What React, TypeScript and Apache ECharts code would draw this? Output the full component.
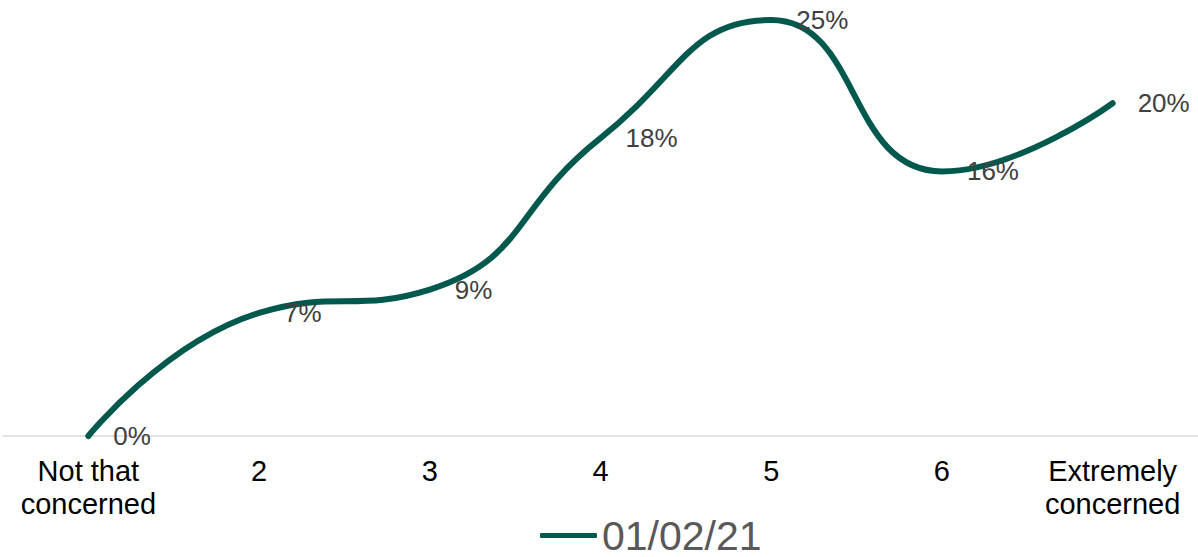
import React, { useEffect, useRef } from "react";
import * as echarts from "echarts";

const categories = ["Not that\nconcerned", "2", "3", "4", "5", "6", "Extremely\nconcerned"];
const seriesName = "01/02/21";
const values = [0, 7.4, 8.8, 17.9, 25, 15.9, 20];

export default function App() {
  const ref = useRef<HTMLDivElement>(null);
  useEffect(() => {
    if (!ref.current) return;
    const chart = echarts.init(ref.current, undefined, { renderer: "svg" });
    chart.setOption({
      animation: false,
      textStyle: { fontFamily: "Liberation Sans, Arial, sans-serif" },
      grid: { left: 3, right: 0, top: 20, bottom: 121 },
      legend: {
        data: [{ name: seriesName, icon: "roundRect" }],
        left: 535,
        top: 510,
        itemWidth: 57,
        itemHeight: 5,
        itemGap: 16,
        itemStyle: { color: "#00594c", opacity: 1 },
        textStyle: {
          fontSize: 41,
          lineHeight: 36,
          color: "#595959",
          fontFamily: "Liberation Sans, Arial, sans-serif",
        },
      },
      xAxis: {
        type: "category",
        data: categories,
        boundaryGap: true,
        axisTick: { show: false },
        axisLine: { lineStyle: { color: "#d9d9d9", width: 1.5 } },
        axisLabel: {
          color: "#000000",
          fontSize: 29,
          lineHeight: 33,
          margin: 18,
          interval: 0,
          fontFamily: "Liberation Sans, Arial, sans-serif",
        },
      },
      yAxis: { type: "value", min: 0, max: 25, show: false, splitLine: { show: false } },
      series: [
        {
          name: seriesName,
          type: "line",
          data: values,
          smooth: 0.5,
          symbol: "circle",
          symbolSize: 0.01,
          showSymbol: true,
          clip: false,
          lineStyle: { color: "#00594c", width: 6, cap: "round" },
          itemStyle: { color: "#00594c" },
          label: {
            show: true,
            position: "right",
            distance: 25,
            fontSize: 26,
            color: "#404040",
            fontFamily: "Liberation Sans, Arial, sans-serif",
            formatter: (p: any) => Math.round(p.value) + "%",
          },
        },
      ],
    });
    return () => chart.dispose();
  }, []);
  return (
    <div
      ref={ref}
      style={{ position: "absolute", left: 0, top: 0, width: 1198, height: 557 }}
    />
  );
}
